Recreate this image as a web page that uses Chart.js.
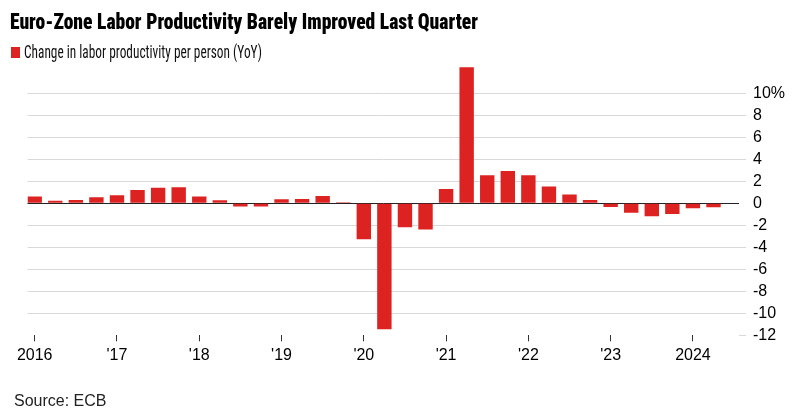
<!DOCTYPE html>
<html><head><meta charset="utf-8">
<script src="https://cdn.jsdelivr.net/npm/chart.js@4.4.0/dist/chart.umd.min.js"></script>
<style>
html,body{margin:0;padding:0;background:#fff;}
#wrap{position:relative;width:804px;height:417px;overflow:hidden;background:#fff;}
canvas{position:absolute;left:0;top:0;}
.t{position:absolute;white-space:nowrap;line-height:1;transform-origin:0 0;}
#title{left:10px;top:10.5px;font-weight:900;font-size:21.5px;font-family:"Liberation Sans Narrow","Arial Narrow","Roboto Condensed","DejaVu Sans Condensed",Arial,sans-serif;color:#000;}
#legend{left:24px;top:44px;font-size:17.5px;font-family:"Liberation Sans Narrow","Arial Narrow","Roboto Condensed","DejaVu Sans Condensed",Arial,sans-serif;color:#111;}
#sw{position:absolute;left:11px;top:47px;width:8.5px;height:11px;background:#dd2222;}
#source{left:14px;top:393px;font-size:16px;font-family:"Liberation Sans",Arial,sans-serif;color:#222;}
</style></head>
<body>
<div id="wrap">
<canvas id="c" width="804" height="417"></canvas>
<div class="t" id="title">Euro-Zone Labor Productivity Barely Improved Last Quarter</div>
<div id="sw"></div>
<div class="t" id="legend">Change in labor productivity per person (YoY)</div>
<div class="t" id="source">Source: ECB</div>
</div>
<script>
const quarters = [
 '2016 Q1','2016 Q2','2016 Q3','2016 Q4',
 '2017 Q1','2017 Q2','2017 Q3','2017 Q4',
 '2018 Q1','2018 Q2','2018 Q3','2018 Q4',
 '2019 Q1','2019 Q2','2019 Q3','2019 Q4',
 '2020 Q1','2020 Q2','2020 Q3','2020 Q4',
 '2021 Q1','2021 Q2','2021 Q3','2021 Q4',
 '2022 Q1','2022 Q2','2022 Q3','2022 Q4',
 '2023 Q1','2023 Q2','2023 Q3','2023 Q4',
 '2024 Q1','2024 Q2'];
const productivity = [
 0.61, 0.24, 0.30, 0.55,
 0.73, 1.21, 1.42, 1.45,
 0.61, 0.27, -0.30, -0.30,
 0.36, 0.39, 0.67, 0.09,
 -3.27, -11.45, -2.18, -2.39,
 1.30, 12.36, 2.55, 2.94,
 2.55, 1.52, 0.79, 0.30,
 -0.33, -0.85, -1.18, -0.97,
 -0.45, -0.36];
const yTickValues = [-12,-10,-8,-6,-4,-2,0,2,4,6,8,10];
const xTickQuarters = ['2016 Q1','2017 Q1','2018 Q1','2019 Q1','2020 Q1','2021 Q1','2022 Q1','2023 Q1','2024 Q1'];
const xTickLabels = ['2016',"'17","'18","'19","'20","'21","'22","'23",'2024'];

const xTickIdx = xTickQuarters.map(q => quarters.indexOf(q));
const labelAt = {};
xTickIdx.forEach((v,i)=>{ labelAt[v] = xTickLabels[i]; });

const RED = '#dd2222';
const tickFont = {size:16, family:'"Liberation Sans", Arial, sans-serif'};

new Chart(document.getElementById('c'), {
  type: 'bar',
  data: {
    datasets: [{
      label: 'Change in labor productivity per person (YoY)',
      data: productivity.map((v,i)=>({x:i, y:v})),
      backgroundColor: RED,
      borderWidth: 0,
      barPercentage: 0.7,
      categoryPercentage: 1
    }]
  },
  options: {
    responsive: false,
    animation: false,
    devicePixelRatio: 1,
    layout: {padding: {left: 27.5, top: 65.8, right: 0, bottom: 0}},
    plugins: {legend: {display: false}, tooltip: {enabled: false}},
    scales: {
      x: {
        type: 'linear',
        min: -0.35, max: 34.24,
        offset: false,
        grid: {offset:false, drawOnChartArea: false, drawTicks: true, tickLength: 6, tickColor: '#333', tickWidth: 1},
        border: {display: false},
        afterBuildTicks: s => { s.ticks = xTickIdx.map(v => ({value: v})); },
        afterFit: s => { s.height = 81.7; },
        ticks: {autoSkip: false, maxRotation: 0, padding: 5, color: '#000', font: tickFont,
                callback: v => labelAt[v] ?? ''}
      },
      y: {
        position: 'right',
        min: -12, max: 12.5,
        afterBuildTicks: s => { s.ticks = yTickValues.map(v => ({value: v})); },
        afterFit: s => { s.width = 65; },
        grid: {
          color: c => c.tick.value === 0 ? '#222' : (c.tick.value === -12 ? 'rgba(0,0,0,0)' : '#d9d9d9'),
          tickColor: c => c.tick.value === 0 ? 'rgba(0,0,0,0)' : '#d9d9d9',
          tickLength: 7, lineWidth: 1
        },
        border: {display: false},
        ticks: {padding: 7, color: '#000', font: tickFont,
                callback: v => v === 10 ? '10%' : String(v)}
      }
    }
  }
});

function fit(id, target){
  const el = document.getElementById(id);
  el.style.transform = 'none';
  const w = el.getBoundingClientRect().width;
  if (w > 0) el.style.transform = 'scaleX(' + (target / w) + ')';
}
fit('title', 468);
fit('legend', 238);
</script>
</body></html>
